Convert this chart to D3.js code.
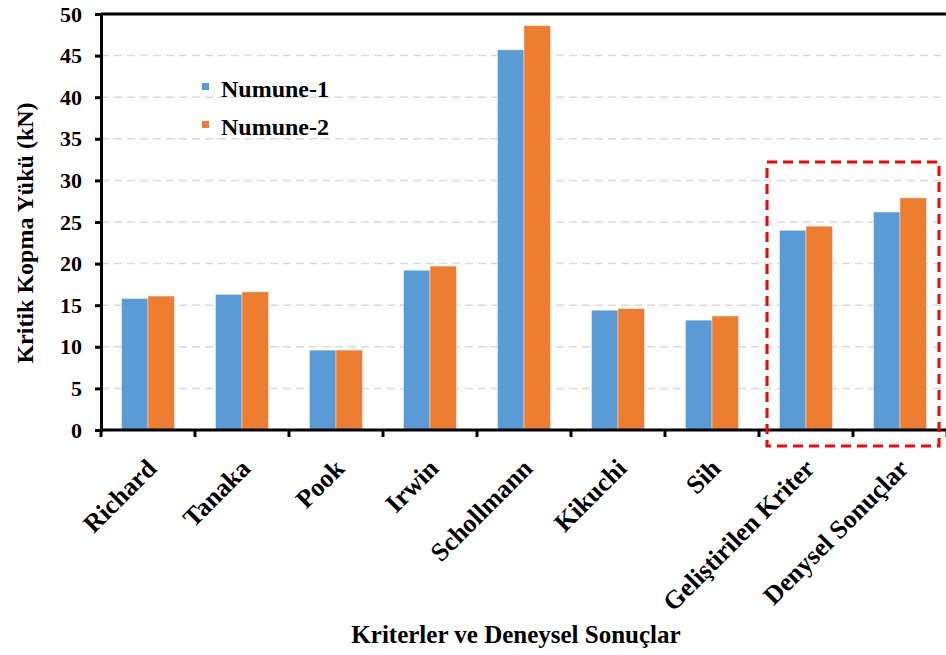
<!DOCTYPE html>
<html>
<head>
<meta charset="utf-8">
<script src="https://cdn.jsdelivr.net/npm/d3@7"></script>
<style>
  body { margin: 0; background: #fff; }
  text { font-family: "Liberation Serif", "Times New Roman", serif; font-weight: bold; }
</style>
</head>
<body>
<div id="chart"></div>
<script>
// data
var categories = ["Richard", "Tanaka", "Pook", "Irwin", "Schollmann", "Kikuchi", "Sih",
  "Geliştirilen Kriter", "Denysel Sonuçlar"]
var series = ["Numune-1", "Numune-2"]
var numune1 = [15.8, 16.3, 9.6, 19.2, 45.7, 14.4, 13.2, 24.0, 26.2]
var numune2 = [16.1, 16.6, 9.6, 19.7, 48.6, 14.6, 13.7, 24.5, 27.9]
var yTicks = [0, 5, 10, 15, 20, 25, 30, 35, 40, 45, 50]
var colors = ["#5b9bd5", "#ed7d31"]
var highlighted = ["Geliştirilen Kriter", "Denysel Sonuçlar"]

const margin = {top: 14, left: 101},
    width = 846, height = 416

var svg = d3.select("#chart")
  .append("svg")
  .attr("width", 946)
  .attr("height", 655)

var g = svg.append("g")
  .attr("transform", "translate(" + margin.left + "," + margin.top + ")")

var x = d3.scaleBand()
  .domain(categories)
  .range([0, width])
  .padding(0)

var x1 = d3.scaleBand()
  .domain(series)
  .range([20.5, 73.5])

var y = d3.scaleLinear()
  .domain([0, 50])
  .range([height, 0])

// dashed gridlines
g.append("g")
  .selectAll("line")
  .data(yTicks.filter(d => d > 0 && d < 50))
  .enter()
  .append("line")
  .attr("x1", 0)
  .attr("x2", width)
  .attr("y1", d => y(d))
  .attr("y2", d => y(d))
  .style("stroke", "#d9d9d9")
  .style("stroke-width", 1.5)
  .style("stroke-dasharray", "8,5")

// bars
var rows = categories.map((c, i) => ({cat: c, values: [numune1[i], numune2[i]]}))

g.append("g")
  .selectAll("g")
  .data(rows)
  .enter()
  .append("g")
  .attr("transform", d => "translate(" + x(d.cat) + ",0)")
  .selectAll("rect")
  .data(d => d.values.map((v, j) => ({key: series[j], value: v})))
  .enter()
  .append("rect")
  .attr("x", d => x1(d.key))
  .attr("width", x1.bandwidth())
  .attr("y", d => y(d.value))
  .attr("height", d => height - y(d.value))
  .attr("fill", (d, j) => colors[j])
  .attr("stroke", "rgba(255,255,255,0.5)")
  .attr("stroke-width", 0.8)

// top frame line
g.append("line")
  .attr("x1", 0).attr("x2", width)
  .attr("y1", y(50)).attr("y2", y(50))
  .style("stroke", "#000")
  .style("stroke-width", 3)

// y axis
var yAxis = g.append("g")
  .call(d3.axisLeft(y).tickValues(yTicks).tickSize(6).tickPadding(13))
yAxis.select(".domain").style("stroke-width", 3)
yAxis.selectAll(".tick line").style("stroke-width", 3)
yAxis.selectAll("text")
  .style("font-size", "22px")
  .style("font-family", "'Liberation Serif', serif")
  .style("font-weight", "bold")
  .attr("fill", "#000")

// x axis: baseline with ticks at category boundaries
var xAxis = g.append("g")
  .attr("transform", "translate(0," + height + ")")
xAxis.append("line")
  .attr("x1", 0).attr("x2", width)
  .style("stroke", "#000")
  .style("stroke-width", 3)
xAxis.selectAll(".xtick")
  .data(categories.map(c => x(c)).concat([width]))
  .enter()
  .append("line")
  .attr("class", "xtick")
  .attr("x1", d => d).attr("x2", d => d)
  .attr("y1", 0).attr("y2", 7)
  .style("stroke", "#000")
  .style("stroke-width", 3)

xAxis.selectAll(".xlabel")
  .data(categories)
  .enter()
  .append("text")
  .attr("class", "xlabel")
  .attr("text-anchor", "end")
  .attr("transform", d => "translate(" + (x(d) + x.bandwidth() / 2 + 10) + ",40) rotate(-45)")
  .style("font-size", "26px")
  .text(d => d)

// highlight box
var hx0 = x(highlighted[0]) + 8,
    hx1 = x(highlighted[1]) + x.bandwidth() - 8
g.append("rect")
  .attr("x", hx0)
  .attr("y", y(32.2))
  .attr("width", hx1 - hx0)
  .attr("height", height + 16 - y(32.2))
  .attr("fill", "none")
  .style("stroke", "#ff0000")
  .style("stroke-width", 3)
  .style("stroke-dasharray", "10,6")

// legend
var legend = g.append("g")
  .attr("transform", "translate(101,69)")
legend.selectAll("rect")
  .data(series)
  .enter()
  .append("rect")
  .attr("x", 0)
  .attr("y", (d, i) => i * 38)
  .attr("width", 7)
  .attr("height", 7)
  .attr("fill", (d, i) => colors[i])
legend.selectAll("text")
  .data(series)
  .enter()
  .append("text")
  .attr("x", 19)
  .attr("y", (d, i) => i * 38 + 14)
  .style("font-size", "24px")
  .text(d => d)

// axis titles
svg.append("text")
  .attr("text-anchor", "middle")
  .attr("transform", "translate(33,233) rotate(-90)")
  .style("font-size", "24px")
  .text("Kritik Kopma Yükü (kN)")

svg.append("text")
  .attr("text-anchor", "middle")
  .attr("x", 516)
  .attr("y", 643)
  .style("font-size", "25px")
  .text("Kriterler ve Deneysel Sonuçlar")
</script>
</body>
</html>
